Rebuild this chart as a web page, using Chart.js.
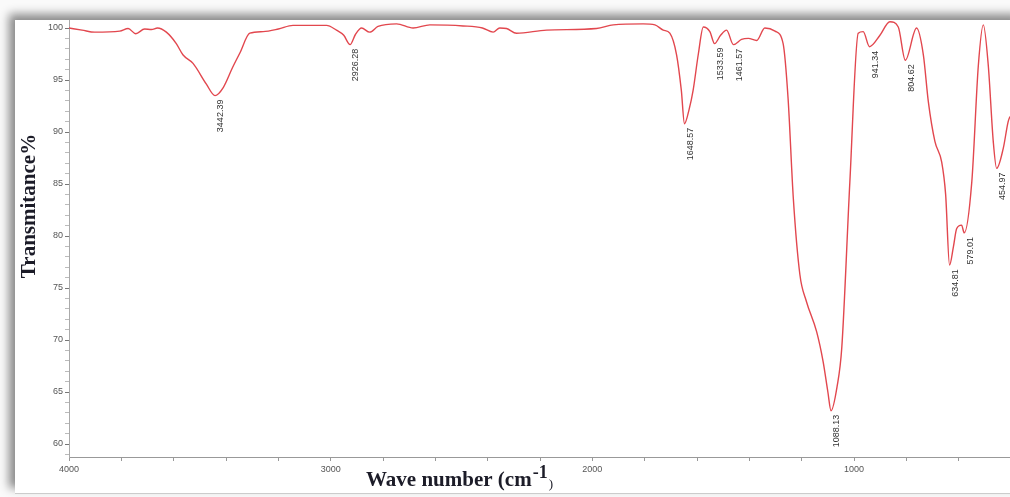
<!DOCTYPE html>
<html>
<head>
<meta charset="utf-8">
<script src="https://cdn.jsdelivr.net/npm/chart.js@4.4.1/dist/chart.umd.min.js"></script>
<style>
  html, body { margin: 0; padding: 0; background: #fafafa; overflow: hidden; }
  .frame {
    position: absolute; left: 15px; top: 20px; width: 1010px; height: 473px;
    background: #fff; box-shadow: -6px -6px 9px rgba(0,0,0,0.45);
    border-bottom: 1px solid #ccc;
  }
  #ftir { position: absolute; left: 0; top: 0; }
</style>
</head>
<body>
<div class="frame"></div>
<canvas id="ftir" width="1010" height="497"></canvas>
<script>
// spectrum (wavenumber cm-1 / transmittance %)
const wavenumbers = [
  4000, 3950, 3902, 3806, 3774, 3745, 3711, 3685, 3662, 3628, 3590, 3564, 3526, 3475,
  3442, 3410, 3375, 3347, 3309, 3258, 3200, 3144, 3016, 2978, 2950, 2926, 2905, 2882,
  2851, 2819, 2748, 2685, 2621, 2494, 2420, 2379, 2354, 2328, 2290, 2175, 1984, 1920,
  1806, 1761, 1729, 1704, 1678, 1660, 1648, 1630, 1615, 1595, 1576, 1551, 1533, 1510,
  1487, 1461, 1430, 1404, 1372, 1341, 1302, 1271, 1252, 1232, 1207, 1182, 1143, 1118,
  1100, 1088, 1065, 1047, 1016, 984, 965, 941, 901, 863, 831, 804, 761, 735, 716, 691,
  665, 650, 635, 620, 608, 589, 579, 550, 525, 506, 487, 468, 455, 430, 411, 404
]
const transmittance = [
  100.0, 99.8, 99.6, 99.7, 99.95, 99.45, 99.9, 99.85, 100.0, 99.6, 98.5, 97.4, 96.6, 94.6,
  93.5, 94.3, 96.2, 97.6, 99.5, 99.65, 99.9, 100.25, 100.25, 99.8, 99.3, 98.4, 99.4, 100.0,
  99.6, 100.15, 100.4, 100.0, 100.3, 100.2, 100.0, 99.6, 100.0, 99.95, 99.5, 99.8, 99.95, 100.3,
  100.4, 100.3, 99.8, 99.5, 97.4, 94.0, 90.8, 92.2, 94.0, 97.5, 100.1, 99.65, 98.5, 99.3,
  99.8, 98.4, 98.9, 99.0, 98.8, 100.0, 99.7, 98.5, 93.2, 83.6, 76.3, 73.7, 70.8, 67.9,
  65.0, 63.2, 65.5, 69.2, 85.2, 99.5, 99.65, 98.2, 99.3, 100.6, 100.1, 96.9, 100.0, 97.4, 92.9, 89.1,
  87.1, 84.0, 77.2, 79.0, 80.7, 81.05, 80.3, 85.2, 96.4, 100.3, 96.4, 89.1, 86.5, 88.4, 91.0, 91.5
]

// annotated peaks
const peakLabels = ['3442.39', '2926.28', '1648.57', '1533.59', '1461.57', '1088.13', '941.34', '804.62', '634.81', '579.01', '454.97']
const peakWavenumbers = [3442.39, 2926.28, 1648.57, 1533.59, 1461.57, 1088.13, 941.34, 804.62, 634.81, 579.01, 454.97]
const peakTransmittance = [93.5, 98.4, 90.8, 98.5, 98.4, 63.2, 98.2, 96.9, 77.2, 80.3, 86.5]

const xTickLabels = [4000, 3000, 2000, 1000]
const yTickLabels = [60, 65, 70, 75, 80, 85, 90, 95, 100]

const peakText = {
  id: 'peakText',
  afterDatasetsDraw(chart) {
    const { ctx, scales: { x, y } } = chart
    ctx.save()
    ctx.font = '9px "Liberation Sans", Arial, sans-serif'
    ctx.fillStyle = '#333'
    ctx.textAlign = 'right'
    ctx.textBaseline = 'middle'
    peakLabels.forEach((txt, i) => {
      const px = x.getPixelForValue(peakWavenumbers[i]) + 6
      const py = y.getPixelForValue(peakTransmittance[i]) + 4
      ctx.save()
      ctx.translate(px, py)
      ctx.rotate(-Math.PI / 2)
      ctx.fillText(txt, 0, 0)
      ctx.restore()
    })
    ctx.restore()
  }
}

const axisTitles = {
  id: 'axisTitles',
  afterDraw(chart) {
    const ctx = chart.ctx
    ctx.save()
    ctx.fillStyle = '#1c1c28'
    // y title
    ctx.font = 'bold 21px "Liberation Serif", "Times New Roman", serif'
    ctx.textAlign = 'center'
    ctx.textBaseline = 'middle'
    ctx.save()
    ctx.translate(30, 206)
    ctx.rotate(-Math.PI / 2)
    ctx.fillText('Transmitance%', 0, 0)
    ctx.restore()
    // x title with superscript
    ctx.textAlign = 'left'
    ctx.textBaseline = 'alphabetic'
    let tx = 366
    const base = 486
    ctx.font = 'bold 21px "Liberation Serif", "Times New Roman", serif'
    const main = 'Wave number (cm'
    ctx.fillText(main, tx, base)
    tx += ctx.measureText(main).width + 1
    ctx.font = 'bold 18px "Liberation Serif", "Times New Roman", serif'
    ctx.fillText('-1', tx, base - 8)
    tx += ctx.measureText('-1').width + 1
    ctx.font = '13px "Liberation Serif", "Times New Roman", serif'
    ctx.fillText(')', tx, base + 2)
    ctx.restore()
  }
}

new Chart(document.getElementById('ftir'), {
  type: 'line',
  data: {
    datasets: [{
      data: wavenumbers.map((w, i) => ({ x: w, y: transmittance[i] })),
      borderColor: '#e2474e',
      borderWidth: 1.4,
      pointRadius: 0,
      fill: false,
      cubicInterpolationMode: 'monotone'
    }]
  },
  options: {
    responsive: false,
    animation: false,
    layout: { padding: { top: 20, left: 0, right: 0, bottom: 0 } },
    plugins: { legend: { display: false }, tooltip: { enabled: false } },
    scales: {
      x: {
        type: 'linear',
        reverse: true,
        min: 404,
        max: 4000,
        afterBuildTicks: s => {
          const t = []
          for (let v = 4000; v >= 600; v -= 200) t.push({ value: v })
          s.ticks = t
        },
        afterFit: s => { s.height = 40 },
        grid: { drawOnChartArea: false, tickLength: 4, color: '#999' },
        border: { color: '#999' },
        ticks: {
          autoSkip: false, maxRotation: 0, padding: 3, color: '#555',
          font: { size: 9, family: '"Liberation Sans", Arial, sans-serif' },
          callback: v => xTickLabels.includes(v) ? String(v) : ''
        }
      },
      y: {
        min: 58.75,
        max: 100.77,
        afterBuildTicks: s => {
          const t = []
          for (let v = 59; v <= 100; v++) t.push({ value: v })
          s.ticks = t
        },
        afterFit: s => { s.width = 69 },
        grid: {
          drawOnChartArea: false, tickLength: 4,
          color: c => yTickLabels.includes(c.tick && c.tick.value) ? '#777' : '#bbb'
        },
        border: { color: '#aaa', dash: [2, 2] },
        ticks: {
          autoSkip: false, padding: 2, color: '#555',
          font: { size: 9, family: '"Liberation Sans", Arial, sans-serif' },
          callback: v => yTickLabels.includes(v) ? String(v) : ''
        }
      }
    }
  },
  plugins: [peakText, axisTitles]
})
</script>
</body>
</html>
